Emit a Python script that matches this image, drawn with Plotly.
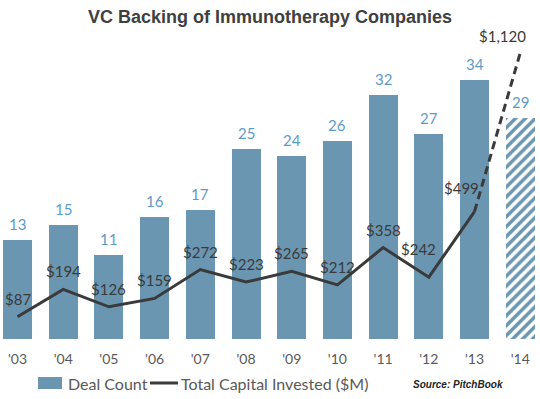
import plotly.graph_objects as go

years = ["'03", "'04", "'05", "'06", "'07", "'08", "'09", "'10", "'11", "'12", "'13", "'14"]
deal_count = [13, 15, 11, 16, 17, 25, 24, 26, 32, 27, 34, 29]
capital = [87, 194, 126, 159, 272, 223, 265, 212, 358, 242, 499, 1120]
capital_labels = ["$87", "$194", "$126", "$159", "$272", "$223", "$265", "$212", "$358", "$242", "$499", "$1,120"]

BAR = "#6a96b1"
LINE = "#3a3a3a"
CNT = "#5d9bc7"
TXT = "#595959"
FONT = "Lato"

xs = list(range(len(years)))
n_solid = len(years) - 1

fig = go.Figure()
# actual years: solid bars
fig.add_trace(go.Bar(
    x=xs[:n_solid], y=deal_count[:n_solid], name="Deal Count", width=0.635,
    marker=dict(color=BAR, line=dict(width=0)),
    showlegend=False, yaxis="y", hoverinfo="skip",
))
# projected year: hatched bar
fig.add_trace(go.Bar(
    x=xs[n_solid:], y=deal_count[n_solid:], width=0.635,
    marker=dict(color="white", line=dict(width=0),
                pattern=dict(shape="/", fillmode="replace", fgcolor=BAR, bgcolor="white",
                             fgopacity=1, size=7, solidity=0.5)),
    showlegend=False, yaxis="y", hoverinfo="skip",
))
fig.add_trace(go.Scatter(
    x=xs[:n_solid], y=capital[:n_solid], mode="lines", name="Total Capital Invested ($M)",
    line=dict(color=LINE, width=3), yaxis="y2", showlegend=False, hoverinfo="skip",
))
fig.add_trace(go.Scatter(
    x=xs[n_solid - 1:], y=capital[n_solid - 1:], mode="lines", showlegend=False,
    line=dict(color=LINE, width=3, dash="8px,5px"), yaxis="y2", hoverinfo="skip",
))

for i, v in enumerate(deal_count):
    fig.add_annotation(x=xs[i], y=v, yref="y", text=str(v), showarrow=False,
                       yshift=16, font=dict(family=FONT, size=15, color=CNT))

shifts = [(0, 18)] * 9 + [(-10, 28), (-13, 24), (-18, 17)]
for i, (lab, v) in enumerate(zip(capital_labels, capital)):
    dx, dy = shifts[i]
    fig.add_annotation(x=xs[i], y=v, yref="y2", text=lab, showarrow=False,
                       xshift=dx, yshift=dy,
                       font=dict(family=FONT, size=15, color=LINE))

# legend (drawn manually to match the wide swatch)
PH = 309.0
def py(px):
    return (339.0 - px) / PH

fig.add_shape(type="rect", xref="paper", yref="paper", x0=38 / 540, x1=62 / 540,
              y0=py(389), y1=py(377), fillcolor=BAR, line=dict(width=0))
fig.add_shape(type="line", xref="paper", yref="paper", x0=150 / 540, x1=178 / 540,
              y0=py(383), y1=py(383), line=dict(color=LINE, width=3))
fig.add_annotation(x=66 / 540, y=py(383), xref="paper", yref="paper", text="Deal Count",
                   showarrow=False, xanchor="left", yanchor="middle",
                   font=dict(family=FONT, size=16, color=TXT))
fig.add_annotation(x=179 / 540, y=py(383), xref="paper", yref="paper", text="Total Capital Invested ($M)",
                   showarrow=False, xanchor="left", yanchor="middle",
                   font=dict(family=FONT, size=16, color=TXT))
fig.add_annotation(x=458 / 540, y=py(384), xref="paper", yref="paper", text="<b><i>Source: PitchBook</i></b>",
                   showarrow=False, xanchor="center", yanchor="middle",
                   font=dict(family="Liberation Sans", size=10, color="#262626"))

fig.update_layout(
    width=540, height=399,
    margin=dict(l=0, r=0, t=30, b=60, autoexpand=False),
    paper_bgcolor="white", plot_bgcolor="white",
    hovermode=False,
    barmode="overlay",
    title=dict(text="<b>VC Backing of Immunotherapy Companies</b>", x=0.5, xanchor="center",
               y=1 - 17 / 399, yanchor="middle",
               font=dict(family="Liberation Sans", size=18, color="#404040")),
    xaxis=dict(tickmode="array", tickvals=xs, ticktext=years, range=[-0.383, 11.433],
               showgrid=False, zeroline=False, showline=False, ticks="",
               ticklabelstandoff=10, automargin=False,
               tickfont=dict(family=FONT, size=14, color=TXT)),
    yaxis=dict(range=[0, 40.6], visible=False, showgrid=False, zeroline=False, automargin=False),
    yaxis2=dict(range=[0, 1210], overlaying="y", visible=False, showgrid=False, zeroline=False,
                automargin=False),
    showlegend=False,
    bargap=0,
)

fig.write_html("out.html", config={"displayModeBar": False},
               post_script="document.body.style.margin='0';")
